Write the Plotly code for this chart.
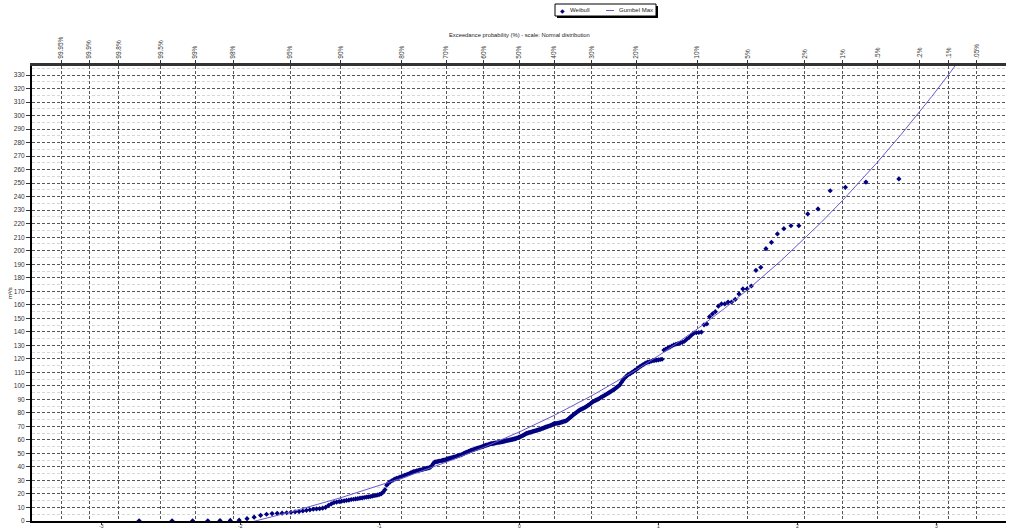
import plotly.graph_objects as go
from statistics import NormalDist

# ---------------- data ----------------
# Sorted observed discharges (m3/s), plotted with Weibull plotting positions
DISCHARGE_LOW = [0.1, 0.1, 0.2, 0.2, 0.3, 0.4, 0.6,
                 1.7, 2.8, 4.2, 5.0, 5.5, 5.7, 5.8, 6.1, 6.4, 6.8, 7.0, 7.4,
                 7.9, 8.3, 8.7, 8.9, 9.1, 9.5, 10.1, 11.5, 12.6, 13.6, 14.0, 14.4,
                 14.7, 14.9, 15.2, 15.5, 15.9, 16.1, 16.3, 16.6, 16.9, 17.1, 17.4,
                 17.6, 17.9, 18.1, 18.4, 18.7, 19.0, 19.3, 19.7, 20.2, 21.5, 23.2,
                 26.5, 28.0, 29.0, 29.8, 30.5, 31.2, 31.6, 32.0, 32.4, 32.8]
DISCHARGE_MID = [33.3, 33.7, 34.2, 34.6, 35.1, 35.6, 36.1, 36.5, 36.8, 37.1, 37.3, 37.6, 37.9, 38.1, 38.4, 38.7,
                 39.0, 39.2, 39.5, 39.9, 41.0, 42.5, 43.6, 43.8, 44.0, 44.2, 44.4, 44.6, 44.8, 45.0, 45.3, 45.6,
                 45.9, 46.2, 46.5, 46.7, 47.0, 47.2, 47.5, 47.8, 48.1, 48.4, 48.7, 49.0, 49.4, 49.8, 50.2,
                 50.7, 51.0, 51.4, 51.8, 52.1, 52.4, 52.7, 53.0, 53.3, 53.6, 53.9, 54.1, 54.4, 54.7, 55.0, 55.3,
                 55.6, 55.9, 56.1, 56.4, 56.7, 57.0, 57.2, 57.3, 57.5, 57.6, 57.8, 57.9, 58.1, 58.2, 58.4, 58.5,
                 58.7, 58.9, 59.1, 59.3, 59.5, 59.6, 59.8, 60.0, 60.2, 60.4, 60.6, 60.8, 61.0, 61.3, 61.6, 62.0,
                 62.3, 62.7, 63.1, 63.5, 63.9, 64.4, 64.9, 65.1, 65.4, 65.6, 65.8, 66.1, 66.4, 66.6, 66.8, 67.1,
                 67.3, 67.6, 67.8, 68.2, 68.5, 68.8, 69.1, 69.4, 69.7, 70.0, 70.3, 70.6, 70.9, 71.3, 71.8,
                 72.0, 72.2, 72.3, 72.5, 72.6, 72.9, 73.1, 73.4, 73.7, 73.9, 74.2, 74.9, 75.6, 76.3, 77.1, 77.8]
DISCHARGE_HIGH = [78.6, 79.3, 79.9, 80.6, 81.3, 82.0, 82.4, 82.8, 83.3, 83.8, 84.3, 84.8, 85.5, 86.1, 86.8, 87.6,
                  88.3, 88.8, 89.3, 89.7, 90.2, 90.7, 91.4, 91.9, 92.5, 93.0, 93.6, 94.2, 94.8, 95.5, 96.1, 96.8,
                  97.4, 98.3, 99.0, 99.9, 100.8, 102.5, 104.0, 105.5, 106.6, 107.7, 108.4, 109.1, 109.8, 110.6, 111.5,
                  112.2, 113.1, 114.0, 114.8, 115.6, 116.3, 117.1, 117.5, 117.8, 118.2, 118.6, 118.9, 119.1, 119.3, 119.5, 119.7,
                  126.5, 127.2, 128.0, 128.7, 129.5, 130.3, 130.8, 131.3, 131.7, 132.2, 133.0, 134.5, 135.8,
                  137.5, 139.0, 139.3, 139.5, 139.8,
                  145.2, 145.8, 151.2, 153.2, 154.9, 159.0, 160.6, 160.6, 162.0, 162.0, 164.0, 168.0, 171.7, 171.7,
                  173.9, 185.5, 187.7,
                  201.5, 206.2, 212.4, 216.3, 218.5, 218.5, 227.2, 230.9, 244.4, 246.9, 250.8, 253.1]

# Fitted Gumbel Max curve: exceedance probability (fraction) -> discharge
GUMBEL_EXCEEDANCE = [0.98, 0.97, 0.95, 0.90, 0.85, 0.80, 0.70, 0.60, 0.50, 0.40, 0.30, 0.20, 0.15,
                     0.10, 0.07, 0.05, 0.03, 0.02, 0.015, 0.01, 0.007, 0.005, 0.003, 0.002,
                     0.0015, 0.001, 0.0007]
GUMBEL_DISCHARGE = [-4.2, 0.2, 6.6, 17.2, 25.1, 31.7, 43.5, 54.5, 65.8, 78.2, 92.8, 111.7, 124.6,
                    142.1, 157.2, 171.3, 192.4, 209.0, 220.8, 237.3, 251.8, 265.5, 286.2, 302.7,
                    314.3, 330.7, 345.2]

# Top axis: exceedance probability ticks
TOP_TICK_PROB = [0.9995, 0.999, 0.998, 0.995, 0.99, 0.98, 0.95, 0.90, 0.80, 0.70, 0.60, 0.50,
                 0.40, 0.30, 0.20, 0.10, 0.05, 0.02, 0.01, 0.005, 0.002, 0.001, 0.0005]
TOP_TICK_TEXT = ["99.95%", "99.9%", "99.8%", "99.5%", "99%", "98%", "95%", "90%", "80%", "70%",
                 "60%", "50%", "40%", "30%", "20%", "10%", "5%", "2%", "1%", ".5%", ".2%", ".1%", ".05%"]
# Bottom axis: standard normal variate
BOTTOM_TICKS = [-3, -2, -1, 0, 1, 2, 3]
BOTTOM_TEXT = ["-3", "-2", "-1", "0", "1", "2", "3"]

# ---------------- derived positions (normal probability scale) ----------------
nd = NormalDist()
values = DISCHARGE_LOW + DISCHARGE_MID + DISCHARGE_HIGH
n = len(values)
weibull_z = [nd.inv_cdf((i + 1) / (n + 1)) for i in range(n)]
gumbel_z = [nd.inv_cdf(1 - p) for p in GUMBEL_EXCEEDANCE]
top_z = [nd.inv_cdf(1 - p) for p in TOP_TICK_PROB]

# ---------------- layout helpers ----------------
W, H = 1024, 529
L, R, T, B = 32, 1006, 66, 521


def px(xp):
    return (xp - L) / (R - L)


def py(yp):
    return (B - yp) / (B - T)


FONT = "Liberation Sans, Arial, sans-serif"
fig = go.Figure()

fig.add_trace(go.Scatter(
    x=weibull_z, y=values, mode="markers", name="Weibull",
    marker=dict(symbol="diamond", size=4, color="#000080"),
    xaxis="x", yaxis="y"))

fig.add_trace(go.Scatter(
    x=gumbel_z, y=GUMBEL_DISCHARGE, mode="lines", name="Gumbel Max",
    line=dict(color="#6a5acd", width=1),
    xaxis="x2", yaxis="y"))

XR = [-3.5, 3.5]
fig.update_layout(
    width=W, height=H,
    margin=dict(l=L, r=W - R, t=T, b=H - B, autoexpand=False),
    paper_bgcolor="white", plot_bgcolor="white",
    font=dict(family=FONT, size=6.5, color="#333"),
    showlegend=False,
    xaxis=dict(range=XR, tickvals=BOTTOM_TICKS, showticklabels=False,
               showgrid=False, zeroline=False, showline=True, automargin=False,
               linecolor="black", linewidth=2, ticks="outside", ticklen=2,
               tickcolor="#333"),
    xaxis2=dict(range=XR, overlaying="x", side="top", tickvals=top_z,
                ticktext=TOP_TICK_TEXT, tickangle=-90, showgrid=True,
                gridcolor="#555", gridwidth=1, griddash="3px,2px", automargin=False,
                zeroline=False, showline=True, linecolor="#333", linewidth=3,
                ticks="outside", ticklen=3, tickcolor="#333",
                tickfont=dict(size=6.5, family=FONT)),
    yaxis=dict(range=[0, 336.7], tick0=0, dtick=10, showgrid=True,
               gridcolor="#555", gridwidth=1, griddash="3px,2px", automargin=False,
               zeroline=False, showline=True, linecolor="black", linewidth=2,
               ticks="outside", ticklen=4, tickcolor="#333",
               tickfont=dict(size=6.5, family=FONT),
               minor=dict(tick0=0, dtick=5, showgrid=True, gridcolor="#d6d6d6",
                          gridwidth=1, ticks="")),
)

annotations = [
    dict(text="Exceedance probability (%) - scale: Normal distribution",
         xref="paper", yref="paper", x=0.5, y=py(35), xanchor="center",
         yanchor="middle", showarrow=False, font=dict(size=5.8, family=FONT, color="#222")),
    dict(text="m³/s", xref="paper", yref="paper", x=px(10), y=py(293),
         xanchor="center", yanchor="middle", textangle=-90, showarrow=False,
         font=dict(size=6, family=FONT, color="#222")),
    # legend
    dict(text="◆", xref="paper", yref="paper", x=px(562), y=py(10.5),
         xanchor="center", yanchor="middle", showarrow=False,
         font=dict(size=6, family="DejaVu Sans", color="#000080")),
    dict(text="Weibull", xref="paper", yref="paper", x=px(568), y=py(10.5),
         xanchor="left", yanchor="middle", showarrow=False,
         font=dict(size=6, family=FONT, color="#222")),
    dict(text="Gumbel Max", xref="paper", yref="paper", x=px(617), y=py(10.5),
         xanchor="left", yanchor="middle", showarrow=False,
         font=dict(size=6, family=FONT, color="#222")),
]
# bottom axis labels (standard normal variate), kept inside the page
for v, t in zip(BOTTOM_TICKS, BOTTOM_TEXT):
    annotations.append(dict(text=t, xref="x", yref="paper", x=v, y=py(529.5),
                            xanchor="center", yanchor="bottom", showarrow=False,
                            borderpad=0, font=dict(size=5, family=FONT, color="#333")))

shapes = [
    dict(type="rect", xref="paper", yref="paper", x0=px(557), x1=px(658),
         y0=py(18), y1=py(6), fillcolor="black", line=dict(width=0)),
    dict(type="rect", xref="paper", yref="paper", x0=px(555), x1=px(656),
         y0=py(16), y1=py(4), fillcolor="white", line=dict(color="black", width=1)),
    dict(type="line", xref="paper", yref="paper", x0=px(606), x1=px(614),
         y0=py(10.5), y1=py(10.5), line=dict(color="#6a5acd", width=1)),
]
fig.update_layout(annotations=annotations, shapes=shapes)

fig.write_html("out.html", config={"displayModeBar": False},
               post_script="document.body.style.margin='0';document.body.style.overflow='hidden';")
